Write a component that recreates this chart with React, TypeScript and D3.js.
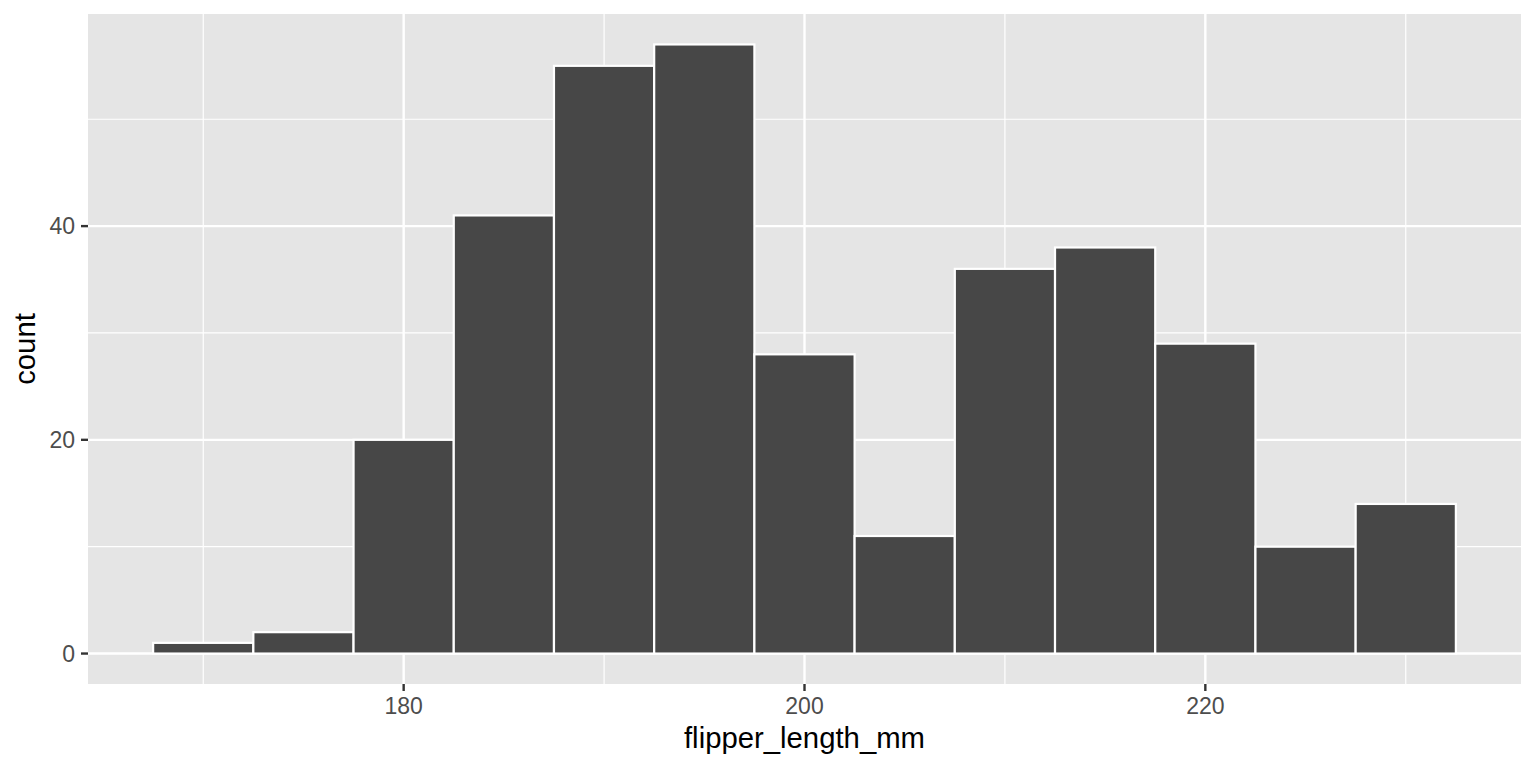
import React from "react";
import * as d3 from "d3";

const binCenters = [170, 175, 180, 185, 190, 195, 200, 205, 210, 215, 220, 225, 230];
const counts = [1, 2, 20, 41, 55, 57, 28, 11, 36, 38, 29, 10, 14];
const binWidth = 5;
const xMajor = [180, 200, 220];
const xMinor = [170, 190, 210, 230];
const yMajor = [0, 20, 40];
const yMinor = [10, 30, 50];
const xTitle = "flipper_length_mm";
const yTitle = "count";

const W = 1536;
const H = 768;
const panel = { left: 88, right: 1521, top: 14, bottom: 684 };
const FONT = "'Liberation Sans', Arial, Helvetica, sans-serif";

export default function App() {
  const xmin = binCenters[0] - binWidth / 2;
  const xmax = binCenters[binCenters.length - 1] + binWidth / 2;
  const xpad = (xmax - xmin) * 0.05;
  const ymax = d3.max(counts) as number;
  const ypad = ymax * 0.05;
  const x = d3.scaleLinear().domain([xmin - xpad, xmax + xpad]).range([panel.left, panel.right]);
  const y = d3.scaleLinear().domain([-ypad, ymax + ypad]).range([panel.bottom, panel.top]);

  return (
    <svg
      width={W}
      height={H}
      style={{ position: "absolute", left: 0, top: 0, background: "#fff" }}
      fontFamily={FONT}
    >
      <rect
        x={panel.left}
        y={panel.top}
        width={panel.right - panel.left}
        height={panel.bottom - panel.top}
        fill="#E5E5E5"
      />
      {xMinor.map((v) => (
        <line key={"xm" + v} x1={x(v)} x2={x(v)} y1={panel.top} y2={panel.bottom} stroke="#fff" strokeWidth={1.2} />
      ))}
      {yMinor.map((v) => (
        <line key={"ym" + v} y1={y(v)} y2={y(v)} x1={panel.left} x2={panel.right} stroke="#fff" strokeWidth={1.2} />
      ))}
      {xMajor.map((v) => (
        <line key={"xM" + v} x1={x(v)} x2={x(v)} y1={panel.top} y2={panel.bottom} stroke="#fff" strokeWidth={2.4} />
      ))}
      {yMajor.map((v) => (
        <line key={"yM" + v} y1={y(v)} y2={y(v)} x1={panel.left} x2={panel.right} stroke="#fff" strokeWidth={2.4} />
      ))}
      {binCenters.map((c, i) => (
        <rect
          key={"b" + c}
          x={x(c - binWidth / 2)}
          y={y(counts[i])}
          width={x(c + binWidth / 2) - x(c - binWidth / 2)}
          height={y(0) - y(counts[i])}
          fill="#474747"
          stroke="#fff"
          strokeWidth={2.2}
        />
      ))}
      {/* x axis ticks */}
      {xMajor.map((v) => (
        <g key={"xt" + v}>
          <line x1={x(v)} x2={x(v)} y1={panel.bottom} y2={panel.bottom + 7} stroke="#333" strokeWidth={2.4} />
          <text x={x(v)} y={714} textAnchor="middle" fontSize={23} fill="#4D4D4D">
            {v}
          </text>
        </g>
      ))}
      {/* y axis ticks */}
      {yMajor.map((v) => (
        <g key={"yt" + v}>
          <line x1={panel.left - 7} x2={panel.left} y1={y(v)} y2={y(v)} stroke="#333" strokeWidth={2.4} />
          <text x={75} y={y(v)} dy="0.36em" textAnchor="end" fontSize={23} fill="#4D4D4D">
            {v}
          </text>
        </g>
      ))}
      <text x={(panel.left + panel.right) / 2} y={748} textAnchor="middle" fontSize={29.3} fill="#000">
        {xTitle}
      </text>
      <text
        transform={`translate(35, ${(panel.top + panel.bottom) / 2}) rotate(-90)`}
        textAnchor="middle"
        fontSize={29.3}
        fill="#000"
      >
        {yTitle}
      </text>
    </svg>
  );
}
